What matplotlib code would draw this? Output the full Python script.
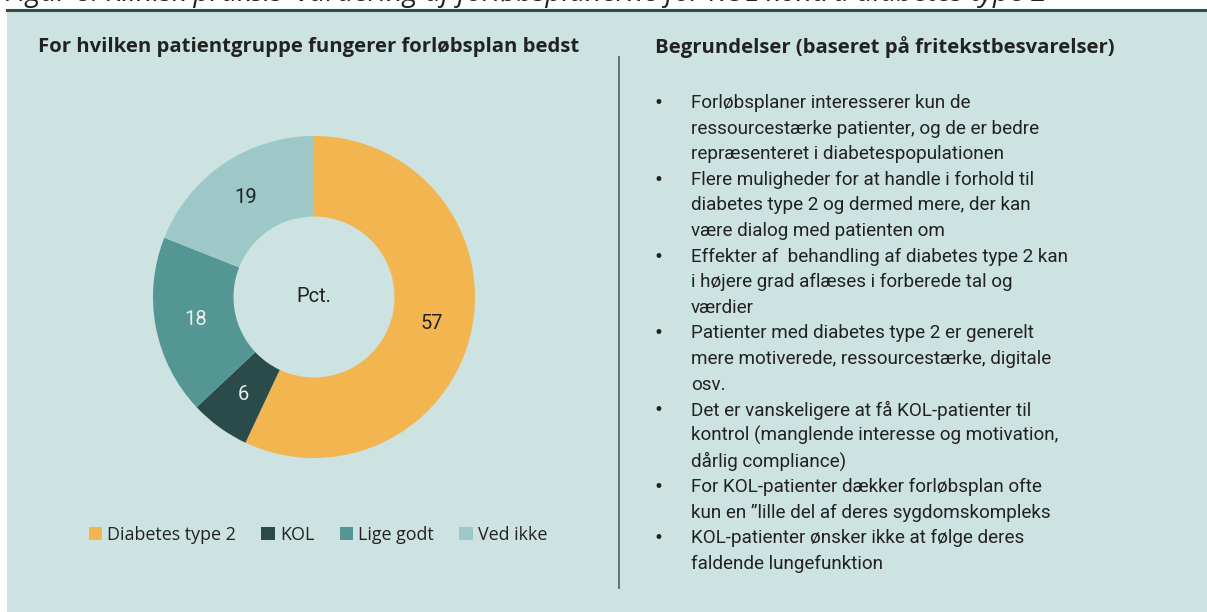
import matplotlib
matplotlib.use("Agg")
import matplotlib.pyplot as plt
from matplotlib.patches import Rectangle
from matplotlib.lines import Line2D
import numpy as np

W, H = 1207, 612

categories = ["Diabetes type 2", "KOL", "Lige godt", "Ved ikke"]
values = [57, 6, 18, 19]
colors = ["#F2B54F", "#2B4B4A", "#549693", "#9EC8C8"]
label_colors = ["#222222", "#E8F0EF", "#E8F0EF", "#222222"]

fig_title = "Figur 8: Klinisk praksis' vurdering af forløbsplanerne for KOL kontra diabetes type 2"
left_title = "For hvilken patientgruppe fungerer forløbsplan bedst"
right_title = "Begrundelser (baseret på fritekstbesvarelser)"
center_label = "Pct."
bullets = [
    ["Forløbsplaner interesserer kun de", "ressourcestærke patienter, og de er bedre", "repræsenteret i diabetespopulationen"],
    ["Flere muligheder for at handle i forhold til", "diabetes type 2 og dermed mere, der kan", "være dialog med patienten om"],
    ["Effekter af  behandling af diabetes type 2 kan", "i højere grad aflæses i forberede tal og", "værdier"],
    ["Patienter med diabetes type 2 er generelt", "mere motiverede, ressourcestærke, digitale", "osv."],
    ["Det er vanskeligere at få KOL-patienter til", "kontrol (manglende interesse og motivation,", "dårlig compliance)"],
    ["For KOL-patienter dækker forløbsplan ofte", "kun en \u201dlille del af deres sygdomskompleks"],
    ["KOL-patienter ønsker ikke at følge deres", "faldende lungefunktion"],
]

BG = "#CCE3E1"
DARK = "#2F4F4E"
TXT = "#222222"

fig = plt.figure(figsize=(W / 100, H / 100), dpi=100)
fig.patch.set_facecolor("white")

def fx(px):
    return px / W

def fy(py):
    return 1 - py / H

# background panel
fig.patches.append(Rectangle((fx(7), 0), 1 - fx(7), fy(10), transform=fig.transFigure,
                             facecolor=BG, edgecolor="none", zorder=-5))
fig.lines.append(Line2D([fx(7), 1], [fy(10), fy(10)], transform=fig.transFigure,
                        color=DARK, lw=2.2, zorder=1))
# divider
fig.lines.append(Line2D([fx(619), fx(619)], [fy(57), fy(588)], transform=fig.transFigure,
                        color="#4E6E6C", lw=1.3, zorder=1))

# clipped figure title (cut off at the top edge, as in the reference)
fig.text(fx(5), fy(1), fig_title, fontsize=20.5, style="italic", family="Open Sans",
         color=TXT, va="baseline", ha="left")

fig.text(fx(38), fy(47), left_title, fontsize=14.6, weight="bold", family="Open Sans",
         color=TXT, va="center", ha="left")
fig.text(fx(655), fy(47), right_title, fontsize=14.6, weight="bold", family="Open Sans",
         color=TXT, va="center", ha="left")

# donut
cx, cy, R = 314, 297, 161
ax = fig.add_axes([fx(cx - R), fy(cy + R), 2 * R / W, 2 * R / H], zorder=3)
ax.set_facecolor("none")
wedges, _ = ax.pie(values, colors=colors, startangle=90, counterclock=False, radius=1,
                   wedgeprops=dict(width=0.5, edgecolor="none"))
for w, v, lc in zip(wedges, values, label_colors):
    mid = np.deg2rad((w.theta1 + w.theta2) / 2)
    ax.text(0.75 * np.cos(mid), 0.75 * np.sin(mid), str(v), ha="center", va="center",
            fontsize=14.5, color=lc, family="Roboto")
ax.text(0, 0, center_label, ha="center", va="center", fontsize=14.5, color=TXT, family="Roboto")
ax.set_xlim(-1, 1)
ax.set_ylim(-1, 1)
ax.set_aspect("equal")
ax.axis("off")

leg = fig.legend(wedges, categories, loc="center", bbox_to_anchor=(fx(318), fy(535)),
                 ncol=4, frameon=False, handlelength=0.75, handleheight=0.75,
                 handletextpad=0.3, columnspacing=1.4,
                 prop=dict(family="Open Sans", size=12.9))
for t in leg.get_texts():
    t.set_color(TXT)

# bullets
y = 103
step = 25.6
for item in bullets:
    fig.text(fx(658), fy(y), "\u2022", fontsize=12, color=TXT, va="center", ha="center",
             family="DejaVu Sans")
    for line in item:
        fig.text(fx(691), fy(y), line, fontsize=13.6, color=TXT, va="center", ha="left",
                 family="Roboto")
        y += step

fig.savefig("out.png", dpi=100, facecolor=fig.get_facecolor())
